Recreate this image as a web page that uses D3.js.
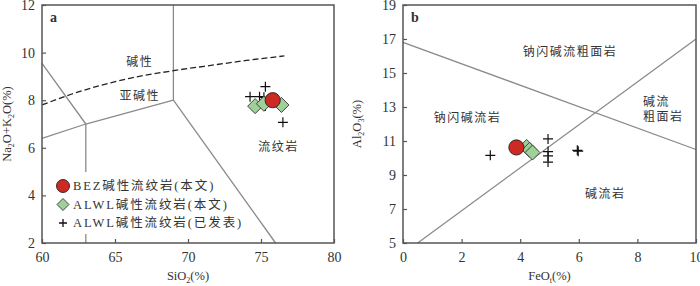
<!DOCTYPE html>
<html>
<head>
<meta charset="utf-8">
<script src="https://cdn.jsdelivr.net/npm/d3@7"></script>
<style>
	body { margin: 0; background: #fff; }
	svg text { font-family: "Liberation Serif", "Noto Sans CJK SC", serif; fill: #333; }
	.axis path, .axis line { stroke: #555; }
</style>
</head>
<body>
<div id="chart"></div>
<script>
// panel a: SiO2 vs Na2O+K2O
var aXTicks = [60, 65, 70, 75, 80];
var aYTicks = [2, 4, 6, 8, 10, 12];
var aLines = [
	[[69, 12], [69, 8]],
	[[69, 8], [76, 2]],
	[[69, 8], [63, 7], [60, 6.4]],
	[[60, 9.55], [63, 7]],
	[[63, 7], [63, 2]]
];
var aDivide = [[60, 7.8], [62, 8.25], [64, 8.62], [66, 8.92], [69, 9.24], [72, 9.5], [74, 9.67], [76.6, 9.86]];
var aBez = [[75.8, 8.0]];
var aAlwl = [[74.6, 7.75], [75.2, 7.85], [76.4, 7.8]];
var aPub = [[75.3, 8.57], [74.25, 8.15], [74.9, 8.15], [75.2, 8.12], [75.3, 7.76], [76.5, 7.07]];
var aLabels = [
	{ x: 66.7, y: 9.45, t: '碱性' },
	{ x: 66.7, y: 8.02, t: '亚碱性' },
	{ x: 76.2, y: 5.87, t: '流纹岩' }
];

// panel b: FeOt vs Al2O3
var bXTicks = [0, 2, 4, 6, 8, 10];
var bYTicks = [5, 7, 9, 11, 13, 15, 17, 19];
var bLines = [
	[[0, 16.8], [10, 10.5]],
	[[0.5, 5], [10, 17]]
];
var bBez = [[3.87, 10.62]];
var bAlwl = [[4.22, 10.65], [4.32, 10.48], [4.42, 10.32]];
var bPub = [[2.98, 10.16], [4.95, 11.12], [4.95, 10.38], [4.95, 10.12], [4.95, 9.76], [5.95, 10.45], [5.98, 10.4]];
var bLabels = [
	{ x: 5.7, y: 16.0, t: '钠闪碱流粗面岩' },
	{ x: 2.2, y: 12.1, t: '钠闪碱流岩' },
	{ x: 6.9, y: 7.65, t: '碱流岩' }
];

var legendItems = ['BEZ碱性流纹岩(本文)', 'ALWL碱性流纹岩(本文)', 'ALWL碱性流纹岩(已发表)'];

var width = 700, height = 286;
var svg = d3.select('#chart').append('svg')
	.attr('width', width)
	.attr('height', height);

function drawPanel(opt) {
	var x = d3.scaleLinear().domain(opt.xDomain).range([opt.left, opt.right]);
	var y = d3.scaleLinear().domain(opt.yDomain).range([opt.bottom, opt.top]);
	var g = svg.append('g');

	var xAxis = d3.axisBottom(x).tickValues(opt.xTicks).tickSize(-4).tickPadding(9).tickFormat(d3.format('d'));
	var yAxis = d3.axisLeft(y).tickValues(opt.yTicks).tickSize(-4).tickPadding(7).tickFormat(d3.format('d'));

	g.append('g').attr('class', 'axis').attr('transform', 'translate(0,' + opt.bottom + ')').call(xAxis);
	g.append('g').attr('class', 'axis').attr('transform', 'translate(' + opt.left + ',0)').call(yAxis);
	g.selectAll('.axis .domain').remove();
	g.selectAll('.axis text').attr('font-size', 14).attr('fill', '#333');
	g.selectAll('.axis line').attr('stroke-width', 1.2);

	var line = d3.line().x(function(d) { return x(d[0]); }).y(function(d) { return y(d[1]); });

	if (opt.mask) {
		// white strip where the legend sits over the boundary line
		g.append('rect').attr('x', opt.mask[0]).attr('y', opt.mask[1])
			.attr('width', opt.mask[2]).attr('height', opt.mask[3]).attr('fill', '#fff');
	}

	g.selectAll('.bound').data(opt.lines).enter().append('path')
		.attr('class', 'bound')
		.attr('d', line)
		.attr('fill', 'none')
		.attr('stroke', '#8a8a8a')
		.attr('stroke-width', 1.3);

	if (opt.dashed) {
		g.append('path')
			.attr('d', d3.line().curve(d3.curveMonotoneX)
				.x(function(d) { return x(d[0]); }).y(function(d) { return y(d[1]); })(opt.dashed))
			.attr('fill', 'none')
			.attr('stroke', '#222')
			.attr('stroke-width', 1.3)
			.attr('stroke-dasharray', '6,3');
	}

	// frame
	g.append('rect')
		.attr('x', opt.left).attr('y', opt.top)
		.attr('width', opt.right - opt.left).attr('height', opt.bottom - opt.top)
		.attr('fill', 'none').attr('stroke', '#555').attr('stroke-width', 1.5);

	g.selectAll('.lab').data(opt.labels).enter().append('text')
		.attr('class', 'lab')
		.attr('x', function(d) { return x(d.x); })
		.attr('y', function(d) { return y(d.y); })
		.attr('text-anchor', 'middle')
		.attr('font-size', 12)
		.attr('letter-spacing', 1.5)
		.attr('fill', '#555')
		.text(function(d) { return d.t; });

	g.append('text')
		.attr('x', opt.left + 8).attr('y', opt.top + 17)
		.attr('font-size', 14).attr('font-weight', 'bold').attr('fill', '#222')
		.text(opt.tag);

	// axis titles
	var xt = g.append('text')
		.attr('x', (opt.left + opt.right) / 2).attr('y', 280)
		.attr('text-anchor', 'middle').attr('font-size', 12.5);
	opt.xTitle(xt);
	var yt = g.append('text')
		.attr('transform', 'translate(' + opt.yTitleX + ',' + ((opt.top + opt.bottom) / 2) + ') rotate(-90)')
		.attr('text-anchor', 'middle').attr('font-size', 12.5);
	opt.yTitle(yt);

	// data points
	g.selectAll('.pub').data(opt.pub).enter().append('path')
		.attr('class', 'pub')
		.attr('transform', function(d) { return 'translate(' + x(d[0]) + ',' + y(d[1]) + ')'; })
		.attr('d', 'M-5,0H5M0,-5V5')
		.attr('stroke', '#111').attr('stroke-width', 1.2);

	g.selectAll('.alwl').data(opt.alwl).enter().append('path')
		.attr('class', 'alwl')
		.attr('transform', function(d) { return 'translate(' + x(d[0]) + ',' + y(d[1]) + ')'; })
		.attr('d', 'M0,-7.5L7.5,0L0,7.5L-7.5,0Z')
		.attr('fill', '#9fd09a').attr('stroke', '#333').attr('stroke-width', 0.9);

	g.selectAll('.bez').data(opt.bez).enter().append('circle')
		.attr('class', 'bez')
		.attr('cx', function(d) { return x(d[0]); })
		.attr('cy', function(d) { return y(d[1]); })
		.attr('r', 7.6)
		.attr('fill', '#cc2a22').attr('stroke', '#222').attr('stroke-width', 0.9);

	return g;
}

var ga = drawPanel({
	left: 42, right: 334, top: 5, bottom: 243,
	xDomain: [60, 80], yDomain: [2, 12],
	xTicks: aXTicks, yTicks: aYTicks,
	lines: aLines, dashed: aDivide, labels: aLabels,
	bez: aBez, alwl: aAlwl, pub: aPub, tag: 'a', yTitleX: 11,
	xTitle: function(t) {
		t.append('tspan').text('SiO');
		t.append('tspan').attr('font-size', 8).attr('dy', 3).text('2');
		t.append('tspan').attr('dy', -3).text('(%)');
	},
	yTitle: function(t) {
		t.append('tspan').text('Na');
		t.append('tspan').attr('font-size', 8).attr('dy', 3).text('2');
		t.append('tspan').attr('dy', -3).text('O+K');
		t.append('tspan').attr('font-size', 8).attr('dy', 3).text('2');
		t.append('tspan').attr('dy', -3).text('O(%)');
	}
});

// legend in panel a, with a white strip over the x=63 line
ga.append('rect')
	.attr('x', 80).attr('y', 172).attr('width', 12).attr('height', 62)
	.attr('fill', '#fff');
var rows = ga.selectAll('.row').data(legendItems).enter().append('g')
	.attr('class', 'row')
	.attr('transform', function(d, i) { return 'translate(63,' + (186 + i * 18.5) + ')'; });
rows.append('text')
	.attr('x', 10).attr('dy', '0.35em')
	.attr('font-size', 12.5).attr('letter-spacing', 1.9)
	.text(function(d) { return d; });
rows.filter(function(d, i) { return i === 0; }).append('circle')
	.attr('r', 6.5).attr('fill', '#cc2a22').attr('stroke', '#222').attr('stroke-width', 0.9);
rows.filter(function(d, i) { return i === 1; }).append('path')
	.attr('d', 'M0,-6L6,0L0,6L-6,0Z')
	.attr('fill', '#9fd09a').attr('stroke', '#333').attr('stroke-width', 0.9);
rows.filter(function(d, i) { return i === 2; }).append('path')
	.attr('d', 'M-4,0H4M0,-4V4')
	.attr('stroke', '#111').attr('stroke-width', 1.3);

drawPanel({
	left: 403, right: 696, top: 5, bottom: 243,
	xDomain: [0, 10], yDomain: [5, 19],
	xTicks: bXTicks, yTicks: bYTicks,
	lines: bLines, dashed: null, labels: bLabels,
	bez: bBez, alwl: bAlwl, pub: bPub, tag: 'b', yTitleX: 361,
	xTitle: function(t) {
		t.append('tspan').text('FeO');
		t.append('tspan').attr('font-size', 8).attr('dy', 3).text('t');
		t.append('tspan').attr('dy', -3).text('(%)');
	},
	yTitle: function(t) {
		t.append('tspan').text('Al');
		t.append('tspan').attr('font-size', 8).attr('dy', 3).text('2');
		t.append('tspan').attr('dy', -3).text('O');
		t.append('tspan').attr('font-size', 8).attr('dy', 3).text('3');
		t.append('tspan').attr('dy', -3).text('(%)');
	}
});

// two-line label on the right of panel b
var lb = svg.append('text')
	.attr('font-size', 12).attr('letter-spacing', 1.5).attr('fill', '#555');
lb.append('tspan').attr('x', 643).attr('y', 106).text('碱流');
lb.append('tspan').attr('x', 643).attr('y', 121).text('粗面岩');
</script>
</body>
</html>
